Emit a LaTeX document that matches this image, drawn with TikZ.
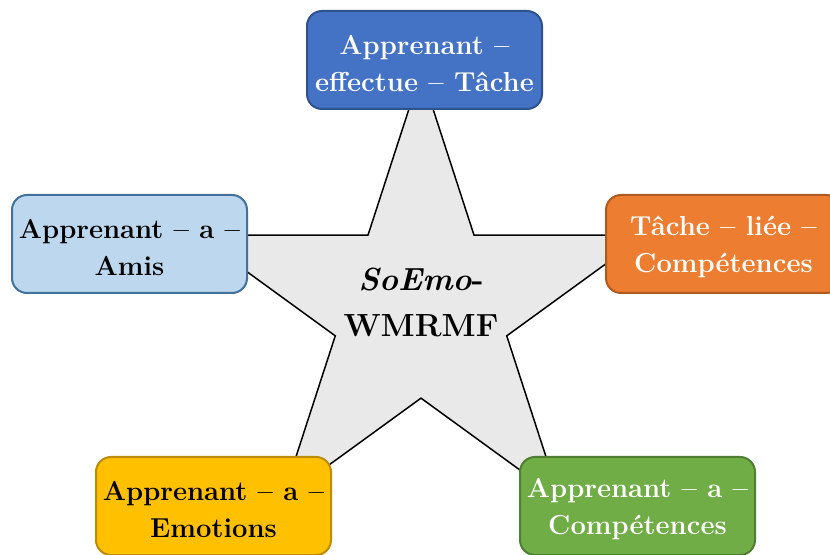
\documentclass[tikz,border=0pt]{standalone}
\usetikzlibrary{shapes.geometric}
\definecolor{starfill}{HTML}{E9E9E9}
\definecolor{bluefill}{HTML}{4472C4}\definecolor{blueline}{HTML}{2F528F}
\definecolor{skyfill}{HTML}{BDD7EE}\definecolor{skyline}{HTML}{41719C}
\definecolor{orangefill}{HTML}{ED7D31}\definecolor{orangeline}{HTML}{AE5A21}
\definecolor{goldfill}{HTML}{FFC000}\definecolor{goldline}{HTML}{BC8C00}
\definecolor{greenfill}{HTML}{70AD47}\definecolor{greenline}{HTML}{507E32}
\tikzset{
  card/.style={rectangle, rounded corners=7.5pt, line width=1pt,
    minimum width=117.5pt, minimum height=49pt},
  cardtext/.style={align=center, inner sep=0pt,
    font=\fontsize{13.7}{18.5}\selectfont\bfseries},
  core/.style={star, star points=5, star point ratio=2.618, minimum size=236pt,
    draw=black, line width=0.75pt, fill=starfill, inner sep=0pt},
  coretext/.style={align=center, inner sep=0pt,
    font=\fontsize{16}{23}\selectfont\bfseries}
}
\begin{document}
\begin{tikzpicture}[x=0.5pt, y=-0.5pt]
  \useasboundingbox (0,0) rectangle (830,555);
  \clip (0,0) rectangle (830,555);
  % central star and its title
  \node[core] (hub) at (421,308) {};
  \node[coretext] (hub-title) at ([yshift=3pt]hub.center) {\textit{SoEmo}-\\WMRMF};
  % five relation cards around the star
  \node[card, fill=bluefill, draw=blueline] (task) at (424.5,60) {};
  \node[card, fill=skyfill, draw=skyline] (friends) at (129.5,244) {};
  \node[card, fill=orangefill, draw=orangeline] (skills) at (723.5,244) {};
  \node[card, fill=goldfill, draw=goldline] (emotions) at (213.5,506) {};
  \node[card, fill=greenfill, draw=greenline] (learner) at (637.5,506) {};
  % card captions
  \node[cardtext, text=white] (task-text) at ([yshift=-1.5pt]task.center)
    {Apprenant --\\effectue -- Tâche};
  \node[cardtext, text=black] (friends-text) at ([yshift=-1.5pt]friends.center)
    {Apprenant -- a --\\Amis};
  \node[cardtext, text=white] (skills-text) at ([yshift=-1.5pt]skills.center)
    {Tâche -- liée --\\Compétences};
  \node[cardtext, text=black] (emotions-text) at ([yshift=-1.5pt]emotions.center)
    {Apprenant -- a --\\Emotions};
  \node[cardtext, text=white] (learner-text) at ([yshift=-1.5pt]learner.center)
    {Apprenant -- a --\\Compétences};
\end{tikzpicture}
\end{document}
